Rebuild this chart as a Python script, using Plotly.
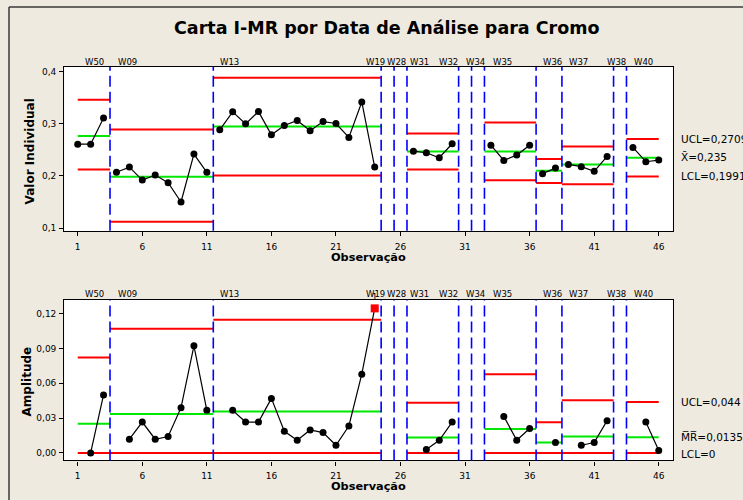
import plotly.graph_objects as go

# ---------------- data ----------------
observations = list(range(1, 47))

stage_names = ["W50", "W09", "W13", "W19", "W28", "W31", "W32", "W34",
               "W35", "W36", "W37", "W38", "W40"]
stage_first = [1, 4, 12, 25, 26, 27, 31, 32, 33, 37, 39, 43, 44]
stage_last = [3, 11, 24, 25, 26, 30, 31, 32, 36, 38, 42, 43, 46]

individual = [0.261, 0.261, 0.311,
              0.207, 0.217, 0.192, 0.2017, 0.187, 0.150, 0.242, 0.207,
              0.2885, 0.323, 0.300, 0.3235, 0.279, 0.2967, 0.3063, 0.2866,
              0.3044, 0.3006, 0.2738, 0.342, 0.217,
              None, None,
              0.2476, 0.2445, 0.235, 0.2618,
              None, None,
              0.259, 0.2298, 0.240, 0.259,
              0.2044, 0.2151,
              0.2222, 0.2178, 0.2088, 0.2375,
              None,
              0.2547, 0.2273, 0.2304]

moving_range = [None, 0.0, 0.050,
                None, 0.0118, 0.0266, 0.0118, 0.0141, 0.039, 0.0923, 0.0367,
                None, 0.0367, 0.0266, 0.0266, 0.047, 0.0186, 0.0109, 0.0198,
                0.0175, 0.0066, 0.0232, 0.0679, 0.1246,
                None, None,
                None, 0.0029, 0.0109, 0.0266,
                None, None,
                None, 0.0315, 0.0109, 0.021,
                None, 0.0089,
                None, 0.0066, 0.0089, 0.0278,
                None,
                None, 0.0266, 0.002]

i_ucl = [0.346, 0.289, 0.3885, None, None, 0.2815, None, None, 0.3025, 0.2323, 0.2566, None, 0.2709]
i_cl = [0.2767, 0.1987, 0.2948, None, None, 0.247, None, None, 0.247, 0.210, 0.2222, None, 0.235]
i_lcl = [0.2126, 0.112, 0.2011, None, None, 0.2126, None, None, 0.1916, 0.1865, 0.1839, None, 0.1991]

mr_ucl = [0.0822, 0.1071, 0.1149, None, None, 0.0433, None, None, 0.0679, 0.0264, 0.0453, None, 0.044]
mr_cl = [0.0252, 0.0335, 0.0356, None, None, 0.0132, None, None, 0.0206, 0.0089, 0.0141, None, 0.0135]
mr_lcl = [0, 0, 0, None, None, 0, None, None, 0, 0, 0, None, 0]

x_ticks = [1, 6, 11, 16, 21, 26, 31, 36, 41, 46]
i_ticks = [0.1, 0.2, 0.3, 0.4]
mr_ticks = [0.0, 0.03, 0.06, 0.09, 0.12]

title_text = "Carta I-MR por Data de Análise para Cromo"
i_labels = ["UCL=0,2709", "X\u0304=0,235", "LCL=0,1991"]
mr_labels = ["UCL=0,044", "M\u0305R\u0305=0,0135", "LCL=0"]

# ---------------- layout helpers ----------------
W, H = 743, 500
BG = "#eeeae0"


def px(x):
    return x / W


def py(y):
    return 1 - y / H


FONT = "DejaVu Sans"
RED = "#ff0000"
GREEN = "#00e800"
BLUE = "#0000ff"

fig = go.Figure()

x_lo, x_hi = observations[0], observations[-1]


def add_chart(values, ucl, cl, lcl, xa, ya):
    # limit lines per stage
    for k in range(len(stage_names)):
        if cl[k] is None:
            continue
        a = max(stage_first[k] - 0.5, x_lo)
        b = min(stage_last[k] + 0.5, x_hi)
        for v, col in ((ucl[k], RED), (lcl[k], RED), (cl[k], GREEN)):
            fig.add_trace(go.Scatter(x=[a, b], y=[v, v], mode="lines",
                                     line=dict(color=col, width=2),
                                     xaxis=xa, yaxis=ya, hoverinfo="skip",
                                     showlegend=False))
    # data per stage
    for k in range(len(stage_names)):
        xs, ys = [], []
        for o in range(stage_first[k], stage_last[k] + 1):
            v = values[o - 1]
            if v is not None:
                xs.append(o)
                ys.append(v)
        if not xs:
            continue
        fig.add_trace(go.Scatter(x=xs, y=ys, mode="lines+markers",
                                 line=dict(color="black", width=1.2),
                                 marker=dict(color="black", size=7),
                                 xaxis=xa, yaxis=ya, showlegend=False))
        # out of control points
        if ucl[k] is not None:
            flagged = [(x, y) for x, y in zip(xs, ys) if y > ucl[k] or y < lcl[k]]
            if flagged:
                fig.add_trace(go.Scatter(x=[p[0] for p in flagged], y=[p[1] for p in flagged],
                                         mode="markers+text",
                                         marker=dict(color=RED, size=8, symbol="square"),
                                         text=["1"] * len(flagged), textposition="top center",
                                         textfont=dict(family=FONT, size=8.5, color="black"),
                                         cliponaxis=False,
                                         xaxis=xa, yaxis=ya, showlegend=False))


add_chart(individual, i_ucl, i_cl, i_lcl, "x", "y")
add_chart(moving_range, mr_ucl, mr_cl, mr_lcl, "x2", "y2")

# stage boundary lines
shapes = []
for k in range(1, len(stage_names)):
    xb = stage_first[k] - 0.5
    for xr, yr in (("x", "y domain"), ("x2", "y2 domain")):
        shapes.append(dict(type="line", xref=xr, yref=yr, x0=xb, x1=xb, y0=0, y1=1,
                           line=dict(color=BLUE, width=1.6, dash="11px,5px"), layer="above"))

# outer frame (top & left)
shapes.append(dict(type="line", xref="paper", yref="paper", x0=px(9), x1=px(W + 5),
                   y0=py(7), y1=py(7), line=dict(color="#3a3a3a", width=1.5)))
shapes.append(dict(type="line", xref="paper", yref="paper", x0=px(9), x1=px(9),
                   y0=py(7), y1=py(H + 5), line=dict(color="#3a3a3a", width=1.5)))

annotations = []


def ann(text, x, y, size, xref="paper", xanchor="center", angle=0):
    annotations.append(dict(text=text, x=x, y=y, xref=xref, yref="paper",
                            xanchor=xanchor, yanchor="middle", showarrow=False,
                            textangle=angle,
                            font=dict(family=FONT, size=size, color="black")))


ann("<b>" + title_text + "</b>", px(386), py(28), 17.5)

# stage labels (centre positions in observation units)
stage_label_x = [2.3, 4.84, 12.75, 24.1, 25.7, 27.45, 29.7, 31.8, 33.9, 37.8, 39.8, 42.7, 44.8]
for name, lx in zip(stage_names, stage_label_x):
    ann(name, lx, py(62), 8.5, xref="x")
    ann(name, lx, py(295.5), 8.5, xref="x")

# axis titles
ann("<b>Valor Individual</b>", px(30), py(152), 12, angle=-90)
ann("<b>Amplitude</b>", px(27), py(383), 12, angle=-90)
ann("<b>Observação</b>", px(368), py(258.5), 11.3)
ann("<b>Observação</b>", px(368), py(488.5), 11.3)

# right side limit labels
for txt, yy in zip(i_labels, (139.5, 157.5, 176.5)):
    ann(txt, px(679), py(yy), 10.5, xanchor="left")
for txt, yy in zip(mr_labels, (404, 439, 456)):
    ann(txt, px(679), py(yy), 10.5, xanchor="left")

axis_common = dict(showline=True, mirror=True, linecolor="black", linewidth=1.3,
                   ticks="outside", ticklen=4, tickcolor="black", showgrid=False,
                   zeroline=False, tickfont=dict(family=FONT, size=9, color="black"))

fig.update_layout(
    width=W, height=H,
    margin=dict(l=0, r=0, t=0, b=0),
    paper_bgcolor=BG,
    plot_bgcolor="white",
    separators=",.",
    showlegend=False,
    shapes=shapes,
    annotations=annotations,
    xaxis=dict(domain=[px(64.3), px(672.7)], range=[-0.04, 47.08], anchor="y",
               tickvals=x_ticks, ticklabelstandoff=3, **axis_common),
    yaxis=dict(domain=[py(231.7), py(67.3)], range=[0.0948, 0.409], anchor="x",
               tickvals=i_ticks, tickformat=".1f", ticklabelstandoff=1, **axis_common),
    xaxis2=dict(domain=[px(64.3), px(672.7)], range=[-0.04, 47.08], anchor="y2",
                tickvals=x_ticks, ticklabelstandoff=3, **axis_common),
    yaxis2=dict(domain=[py(462.3), py(301)], range=[-0.0065, 0.132], anchor="x2",
                tickvals=mr_ticks, tickformat=".2f", ticklabelstandoff=1, **axis_common),
)

fig.write_html(
    "out.html",
    config={"displayModeBar": False},
    post_script=("document.body.style.margin='0';"
                 "document.body.style.background='" + BG + "';"
                 "document.body.style.overflow='hidden';"),
)
